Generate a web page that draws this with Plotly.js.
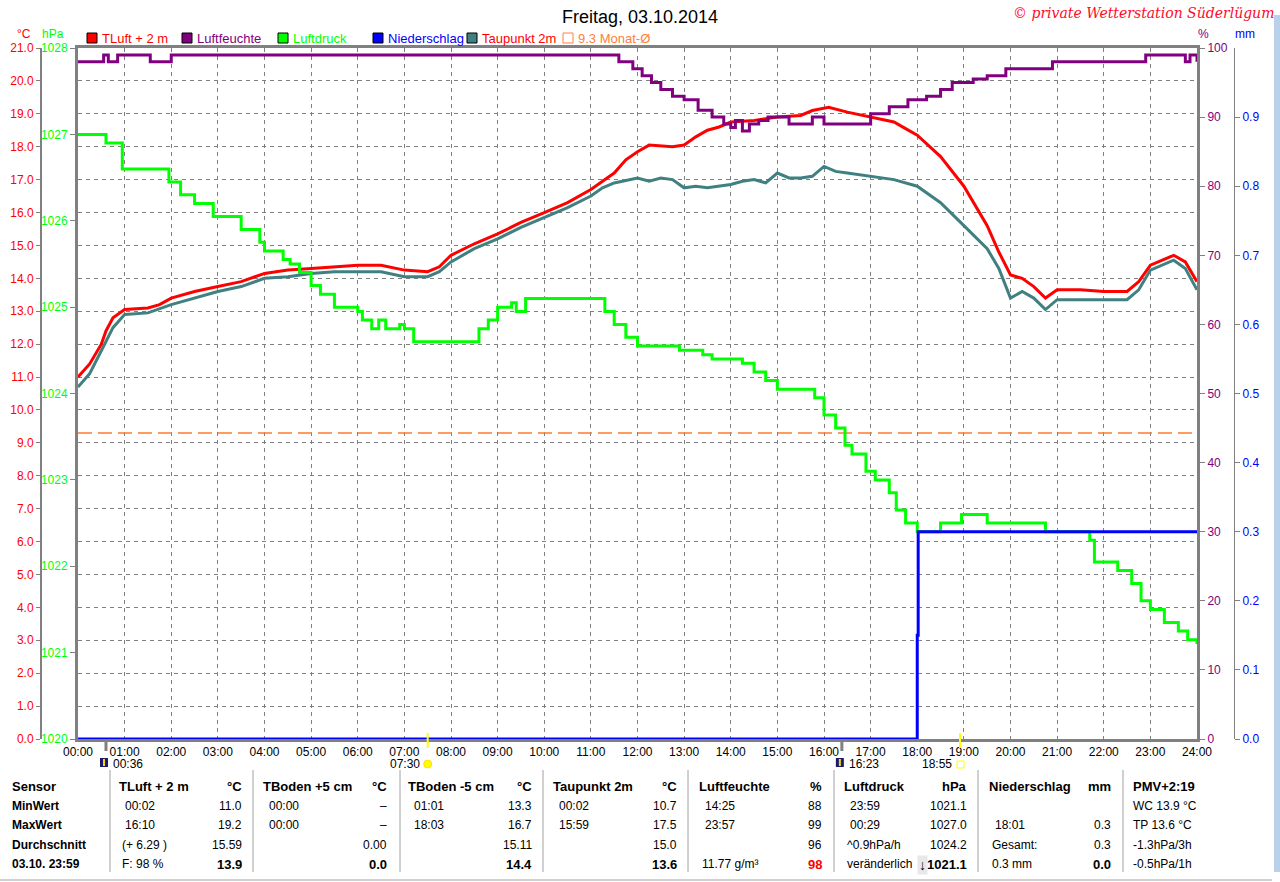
<!DOCTYPE html>
<html><head><meta charset="utf-8">
<script src="https://cdn.plot.ly/plotly-3.0.1.min.js"></script>
<style>html,body{margin:0;padding:0;background:#fff;overflow:hidden}#chart{width:1280px;height:882px}</style>
</head><body><div id="chart"></div>
<script>
// ---------------- DATA ----------------
const hourTicks = [0,1,2,3,4,5,6,7,8,9,10,11,12,13,14,15,16,17,18,19,20,21,22,23,24];
const hourLabels = ["00:00","01:00","02:00","03:00","04:00","05:00","06:00","07:00","08:00","09:00","10:00","11:00","12:00","13:00","14:00","15:00","16:00","17:00","18:00","19:00","20:00","21:00","22:00","23:00","24:00"];

const tempTimes  = [0,0.25,0.5,0.6,0.75,1.0,1.5,1.75,2.0,2.5,3.0,3.5,4.0,4.5,5.0,5.5,6.0,6.5,7.0,7.5,7.75,8.0,8.5,9.0,9.5,10.0,10.5,11.0,11.5,11.75,12.0,12.25,12.75,13.0,13.25,13.5,13.75,14.0,14.5,15.0,15.5,15.75,16.1,16.5,17.0,17.5,17.75,18.0,18.5,19.0,19.5,19.75,20.0,20.25,20.5,20.75,21.0,21.5,22.0,22.5,22.75,23.0,23.5,23.75,24.0];
const tempValues = [11.0,11.4,12.0,12.4,12.8,13.05,13.1,13.2,13.4,13.6,13.75,13.9,14.15,14.25,14.3,14.35,14.4,14.4,14.25,14.2,14.35,14.7,15.05,15.35,15.7,16.0,16.3,16.7,17.2,17.6,17.85,18.05,18.0,18.05,18.3,18.5,18.6,18.75,18.8,18.9,18.95,19.1,19.2,19.05,18.9,18.75,18.55,18.35,17.7,16.8,15.6,14.8,14.1,14.0,13.75,13.4,13.65,13.65,13.6,13.6,13.9,14.4,14.7,14.5,13.9];

const dewTimes  = [0,0.25,0.5,0.75,1.0,1.5,2.0,2.5,3.0,3.5,4.0,4.5,5.0,5.5,6.0,6.5,7.0,7.5,7.75,8.0,8.5,9.0,9.5,10.0,10.5,11.0,11.25,11.5,12.0,12.25,12.5,12.75,13.0,13.25,13.5,14.0,14.25,14.5,14.75,15.0,15.25,15.5,15.75,16.0,16.25,16.5,17.0,17.5,18.0,18.5,19.0,19.5,19.75,20.0,20.25,20.5,20.75,21.0,21.5,22.0,22.5,22.75,23.0,23.5,23.75,24.0];
const dewValues = [10.7,11.1,11.8,12.5,12.9,12.95,13.2,13.4,13.6,13.75,14.0,14.05,14.15,14.2,14.2,14.2,14.05,14.05,14.2,14.5,14.9,15.2,15.55,15.85,16.15,16.5,16.75,16.9,17.05,16.95,17.05,17.0,16.75,16.8,16.75,16.85,16.95,17.0,16.9,17.2,17.05,17.05,17.1,17.4,17.25,17.2,17.1,17.0,16.8,16.3,15.6,14.9,14.3,13.4,13.6,13.4,13.05,13.35,13.35,13.35,13.35,13.65,14.25,14.55,14.3,13.65];

const humTimes  = [0,0.55,0.65,0.85,1.5,1.55,2.0,11.5,11.6,11.9,12.1,12.3,12.5,12.75,13.0,13.3,13.6,13.85,14.0,14.1,14.25,14.4,14.6,14.8,15.0,15.25,15.6,15.75,16.0,17.0,17.4,17.8,18.2,18.5,18.75,19.2,19.5,19.9,20.9,22.9,23.6,23.75,23.85,24.0];
const humValues = [98,99,98,99,99,98,99,99,98,97,96,95,94,93,92.5,91,90,89,88.5,89.5,88,89,89.5,90,90,89,89,90,89,90.5,91.5,92.5,93,94,95,95.5,96,97,98,99,99,98,99,98];

const pressTimes  = [0,0.6,0.95,1.95,2.2,2.5,2.9,3.5,3.9,4.0,4.4,4.55,4.75,5.0,5.2,5.5,6.0,6.1,6.3,6.45,6.6,6.9,7.0,7.2,8.6,8.8,9.0,9.3,9.4,9.6,11.0,11.3,11.5,11.75,12.0,12.9,13.4,13.6,14.25,14.5,14.75,15.0,15.8,16.0,16.25,16.45,16.6,16.9,17.1,17.4,17.55,17.75,18.0,18.5,18.95,19.5,20.75,21.7,21.8,22.3,22.6,22.8,23.0,23.3,23.6,23.8,24.0];
const pressValues = [1027.0,1026.9,1026.6,1026.45,1026.3,1026.2,1026.05,1025.9,1025.75,1025.65,1025.55,1025.5,1025.4,1025.25,1025.15,1025.0,1024.95,1024.85,1024.75,1024.85,1024.75,1024.8,1024.75,1024.6,1024.75,1024.85,1025.0,1025.05,1024.95,1025.1,1025.1,1024.95,1024.8,1024.65,1024.55,1024.5,1024.45,1024.4,1024.35,1024.25,1024.15,1024.05,1023.95,1023.75,1023.6,1023.4,1023.3,1023.1,1023.0,1022.85,1022.65,1022.5,1022.4,1022.5,1022.6,1022.5,1022.4,1022.3,1022.05,1021.95,1021.8,1021.6,1021.5,1021.35,1021.25,1021.15,1021.1];

const precipTimes  = [0,18.0,18.02,24];
const precipValues = [0,0.15,0.3,0.3];

const monthAvgTimes  = [0,24];
const monthAvgValues = [9.3,9.3];

const tempTickVals  = [0,1,2,3,4,5,6,7,8,9,10,11,12,13,14,15,16,17,18,19,20,21];
const pressTickVals = [1020,1021,1022,1023,1024,1025,1026,1027,1028];
const humTickVals   = [0,10,20,30,40,50,60,70,80,90,100];
const precipTickVals= [0,0.1,0.2,0.3,0.4,0.5,0.6,0.7,0.8,0.9];

const eventTimes  = [0.6,7.5,16.383,18.917];
const eventLabels = ["00:36","07:30","16:23","18:55"];
const eventKinds  = ["moon","sun","moon","sunset"];

const legendNames = ["TLuft + 2 m","Luftfeuchte","Luftdruck","Niederschlag","Taupunkt 2m","9.3 Monat-Ø"];

const titleText = "Freitag, 03.10.2014";
const copyrightText = "© private Wetterstation Süderlügum";

const tableHeaders = ["Sensor","TLuft + 2 m","TBoden +5 cm","TBoden -5 cm","Taupunkt 2m","Luftfeuchte","Luftdruck","Niederschlag","PMV+2:19"];
const tableUnits   = ["","°C","°C","°C","°C","%","hPa","mm",""];
const rowLabels    = ["MinWert","MaxWert","Durchschnitt","03.10. 23:59"];
const tableLeft = [
  rowLabels,
  ["00:02","16:10","(+ 6.29 )","F: 98 %"],
  ["00:00","00:00","",""],
  ["01:01","18:03","",""],
  ["00:02","15:59","",""],
  ["14:25","23:57","","11.77 g/m³"],
  ["23:59","00:29","^0.9hPa/h","veränderlich"],
  ["","18:01","Gesamt:","0.3 mm"],
  ["WC 13.9 °C","TP 13.6 °C","-1.3hPa/3h","-0.5hPa/1h"]
];
const tableRight = [
  ["","","",""],
  ["11.0","19.2","15.59","13.9"],
  ["–","–","0.00","0.0"],
  ["13.3","16.7","15.11","14.4"],
  ["10.7","17.5","15.0","13.6"],
  ["88","99","96","98"],
  ["1021.1","1027.0","1024.2","1021.1"],
  ["","0.3","0.3","0.0"],
  ["","","",""]
];

// ---------------- LAYOUT HELPERS ----------------
const W = 1280, H = 882, TOP = 48, BOT = 739;
const px = x => x / W;
const py = y => (BOT - y) / (BOT - TOP);
const FONT = "Arial, 'Liberation Sans', sans-serif";
const GRAY = "#808080";

const traces = [
  {x: monthAvgTimes, y: monthAvgValues, yaxis: "y", mode: "lines", line: {color: "#ff7a30", width: 1.5, dash: "14px,6px"}},
  {x: dewTimes, y: dewValues, yaxis: "y", mode: "lines", line: {color: "#408080", width: 3}},
  {x: tempTimes, y: tempValues, yaxis: "y", mode: "lines", line: {color: "#ff0000", width: 3}},
  {x: pressTimes, y: pressValues, yaxis: "y2", mode: "lines", line: {color: "#00ff00", width: 3, shape: "hv"}},
  {x: humTimes, y: humValues, yaxis: "y3", mode: "lines", line: {color: "#800080", width: 3, shape: "hv"}},
  {x: precipTimes, y: precipValues, yaxis: "y4", mode: "lines", line: {color: "#0000ff", width: 3, shape: "hv"}}
];

const shapes = [];
const annotations = [];

// legend
const legendX = [87,182,278,373,467,563];
const legendColors = ["#ff0000","#800080","#00ff00","#0000ff","#408080","#ff8040"];
const legendTextColors = ["#ff0000","#800080","#00ff00","#0000ff","#ff0000","#ff8040"];
legendNames.forEach((n,i) => {
  const hollow = i === 5;
  shapes.push({type:"rect", xref:"paper", yref:"paper", x0:px(legendX[i]), x1:px(legendX[i]+10), y0:py(43), y1:py(33),
    line:{color: hollow ? legendColors[i] : "#000", width:1}, fillcolor: hollow ? "rgba(0,0,0,0)" : legendColors[i]});
  annotations.push({xref:"paper", yref:"paper", x:px(legendX[i]+13), y:py(38), xanchor:"left", yanchor:"middle", showarrow:false,
    text:n, font:{family:FONT, size:13, color:legendTextColors[i]}});
});

// unit labels
[["°C",24,"#ff0000"],["hPa",53,"#00ff00"],["%",1203,"#800080"],["mm",1245,"#0000ff"]].forEach(u => {
  annotations.push({xref:"paper", yref:"paper", x:px(u[1]), y:py(34), xanchor:"center", yanchor:"middle", showarrow:false,
    text:u[0], font:{family:FONT, size:12, color:u[2]}});
});

// copyright
annotations.push({xref:"paper", yref:"paper", x:px(1276), y:py(13), xanchor:"right", yanchor:"middle", showarrow:false,
  text:"<i>"+copyrightText+"</i>", font:{family:"'DejaVu Serif', serif", size:14, color:"#ff0a28"}});

// blue strip at right
shapes.push({type:"rect", xref:"paper", yref:"paper", x0:px(1274), x1:px(1280), y0:py(872), y1:py(15), line:{width:0}, fillcolor:"#b9d1ea"});

// events (moon / sun)
eventTimes.forEach((t,i) => {
  const k = eventKinds[i];
  if (k === "moon") {
    shapes.push({type:"line", xref:"x", yref:"paper", x0:t, x1:t, y0:py(739), y1:py(751), line:{color:GRAY, width:3}});
    shapes.push({type:"rect", xref:"x", yref:"paper", xsizemode:"pixel", xanchor:t, x0:-6, x1:2, y0:py(767), y1:py(758), line:{width:0}, fillcolor:"#1c1c6c"});
    shapes.push({type:"line", xref:"x", yref:"paper", xsizemode:"pixel", xanchor:t, x0:-2, x1:-2, y0:py(766), y1:py(759), line:{color:"#ffd800", width:2}});
    annotations.push({xref:"x", yref:"paper", x:t, xshift:5, y:py(764), xanchor:"left", yanchor:"middle", showarrow:false,
      text:eventLabels[i], font:{family:FONT, size:12, color:"#000"}});
  } else {
    shapes.push({type:"line", xref:"x", yref:"paper", x0:t, x1:t, y0:py(733), y1:py(748), line:{color:"#ffff00", width:2}});
    if (k === "sun") {
      shapes.push({type:"circle", xref:"x", yref:"paper", xsizemode:"pixel", xanchor:t, x0:-4, x1:4, y0:py(768), y1:py(760), line:{color:"#ffe000", width:1}, fillcolor:"#ffff00"});
    } else {
      shapes.push({type:"rect", xref:"x", yref:"paper", xsizemode:"pixel", xanchor:t, x0:-3, x1:4, y0:py(768), y1:py(761), line:{color:"#ffff00", width:1}, fillcolor:"rgba(0,0,0,0)"});
    }
    annotations.push({xref:"x", yref:"paper", x:t, xshift:-6, y:py(764), xanchor:"right", yanchor:"middle", showarrow:false,
      text:eventLabels[i], font:{family:FONT, size:12, color:"#000"}});
  }
});

// table
const colLeft  = [10,117,261,406,551,697,842,987,1131];
const colRight = [0,244,389,534,679,824,969,1113,0];
const sepX = [110,253,400,543,688,834,978,1123];
const rowY = [806,825,845,864];
sepX.forEach(x => shapes.push({type:"line", xref:"paper", yref:"paper", x0:px(x), x1:px(x), y0:py(770), y1:py(872), line:{color:"#a0a0a0", width:1}}));
shapes.push({type:"line", xref:"paper", yref:"paper", x0:0, x1:px(1272), y0:py(880), y1:py(880), line:{color:"#a0a0a0", width:1}});
tableHeaders.forEach((h,c) => {
  annotations.push({xref:"paper", yref:"paper", x:px(colLeft[c]), y:py(786), xanchor:"left", yanchor:"middle", showarrow:false,
    text:"<b>"+h+"</b>", font:{family:FONT, size:13, color:"#000"}});
  if (tableUnits[c]) annotations.push({xref:"paper", yref:"paper", x:px(colRight[c]), y:py(786), xanchor:"right", yanchor:"middle", showarrow:false,
    text:"<b>"+tableUnits[c]+"</b>", font:{family:FONT, size:13, color:"#000"}});
  rowY.forEach((y,r) => {
    const lt = tableLeft[c][r];
    if (lt) {
      const isTime = /^\d\d:\d\d$/.test(lt);
      const xx = c === 0 || c === 8 ? colLeft[c] : colLeft[c] + (isTime ? 6 : 3);
      const bold = c === 0;
      annotations.push({xref:"paper", yref:"paper", x:px(xx), y:py(y), xanchor:"left", yanchor:"middle", showarrow:false,
        text: bold ? "<b>"+lt+"</b>" : lt, font:{family:FONT, size:12, color:"#000"}});
    }
    const rt = tableRight[c][r];
    if (rt) {
      const last = r === 3;
      annotations.push({xref:"paper", yref:"paper", x:px(colRight[c]), y:py(y), xanchor:"right", yanchor:"middle", showarrow:false,
        text: last ? "<b>"+rt+"</b>" : rt, font:{family:FONT, size: last ? 13 : 12, color: (c === 5 && last) ? "#ff0000" : "#000"}});
    }
  });
});
// arrow next to Luftdruck current value
annotations.push({xref:"paper", yref:"paper", x:px(922), y:py(865), xanchor:"center", yanchor:"middle", showarrow:false,
  text:"<b>↓</b>", font:{family:FONT, size:14, color:"#000"}, bgcolor:"#e8e8e8"});

const layout = {
  width: W, height: H,
  margin: {l:0, r:0, t:TOP, b:H-BOT, pad:0},
  paper_bgcolor: "#ffffff", plot_bgcolor: "#ffffff",
  showlegend: false, hovermode: false,
  title: {text: titleText, x: 0.5, xanchor: "center", xref: "paper", y: 1 - 17/H, yref: "container", yanchor: "middle",
    font: {family: FONT, size: 18, color: "#000"}},
  xaxis: {domain: [78/W, 1197/W], range: [0,24], tickvals: hourTicks, ticktext: hourLabels, ticks: "",
    tickfont: {family: FONT, size: 12, color: "#000"}, showgrid: true, gridcolor: GRAY, gridwidth: 1, griddash: "4px,4px",
    showline: true, linecolor: GRAY, linewidth: 3, mirror: true, zeroline: false, automargin: false, fixedrange: true},
  yaxis: {range: [0,21], tickvals: tempTickVals, tickformat: ".1f", anchor: "free", position: 41/W, side: "left",
    tickfont: {family: FONT, size: 12, color: "#ff0000"}, ticks: "outside", ticklen: 4, tickcolor: GRAY,
    showgrid: true, gridcolor: GRAY, gridwidth: 1, griddash: "4px,4px",
    showline: true, linecolor: GRAY, linewidth: 2, zeroline: false, automargin: false},
  yaxis2: {range: [1020,1028], tickvals: pressTickVals, overlaying: "y", anchor: "x", side: "left",
    tickfont: {family: FONT, size: 12, color: "#00ff00"}, ticks: "outside", ticklen: 5, tickcolor: GRAY,
    showgrid: false, showline: true, linecolor: GRAY, linewidth: 3, zeroline: false, automargin: false},
  yaxis3: {range: [0,100], tickvals: humTickVals, overlaying: "y", anchor: "x", side: "right",
    tickfont: {family: FONT, size: 12, color: "#800080"}, ticks: "outside", ticklen: 5, tickcolor: GRAY,
    showgrid: false, showline: true, linecolor: GRAY, linewidth: 3, zeroline: false, automargin: false},
  yaxis4: {range: [0,1], tickvals: precipTickVals, tickformat: ".1f", overlaying: "y", anchor: "free", position: 1234/W, side: "right",
    tickfont: {family: FONT, size: 12, color: "#0000ff"}, ticks: "outside", ticklen: 5, tickcolor: GRAY,
    showgrid: false, showline: true, linecolor: GRAY, linewidth: 1, zeroline: false, automargin: false},
  shapes: shapes,
  annotations: annotations
};

Plotly.newPlot("chart", traces, layout, {staticPlot: true, displayModeBar: false});
</script>
</body></html>
